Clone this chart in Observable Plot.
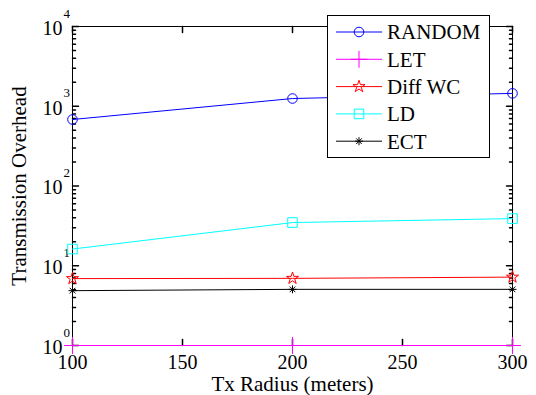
<!DOCTYPE html>
<html><head><meta charset="utf-8">
<script src="https://cdn.jsdelivr.net/npm/d3@7"></script>
<script src="https://cdn.jsdelivr.net/npm/@observablehq/plot@0.6"></script>
<style>
body{margin:0;background:#fff;}
#chart{width:536px;height:395px;}
#chart svg text{font-family:"Liberation Serif","Times New Roman",serif;}
</style>
</head><body><div id="chart"></div>
<script>
// ---- data ----
const radius = [100, 200, 300];
const randomVals = [682, 1250, 1450];
const letVals = [1, 1, 1];
const diffWcVals = [6.9, 6.95, 7.2];
const ldVals = [16.2, 34.8, 39];
const ectVals = [4.87, 5.06, 5.06];
const seriesNames = ["RANDOM", "LET", "Diff WC", "LD", "ECT"];
const xTicks = [100, 150, 200, 250, 300];
const yExponents = [0, 1, 2, 3, 4];

// ---- styles ----
const asterisk8 = {draw(ctx, size) {
  const r = Math.sqrt(size / Math.PI);
  const d = r * Math.SQRT1_2;
  ctx.moveTo(-r, 0); ctx.lineTo(r, 0);
  ctx.moveTo(0, -r); ctx.lineTo(0, r);
  ctx.moveTo(-d, -d); ctx.lineTo(d, d);
  ctx.moveTo(-d, d); ctx.lineTo(d, -d);
}};
const styles = {
  "RANDOM": {color: "#0000ff", symbol: "circle", r: 4.8},
  "LET": {color: "#ff00ff", symbol: "plus", r: 5.5},
  "Diff WC": {color: "#ff0000", symbol: "star", r: 3.8},
  "LD": {color: "#00ffff", symbol: "square", r: 5.4},
  "ECT": {color: "#000000", symbol: asterisk8, r: 4}
};
const valuesBySeries = {
  "RANDOM": randomVals, "LET": letVals, "Diff WC": diffWcVals, "LD": ldVals, "ECT": ectVals
};
const rows = seriesNames.flatMap(s => radius.map((x, i) => ({series: s, x, y: valuesBySeries[s][i]})));

const yMajor = yExponents.map(e => Math.pow(10, e));
const yMinor = yExponents.slice(0, -1).flatMap(e => d3.range(2, 10).map(k => k * Math.pow(10, e)));

const font = "Liberation Serif";
const tickShape = {draw(ctx, l) { ctx.moveTo(0, 0); ctx.lineTo(0, -l); }};

const M = {left: 72, right: 24, top: 26, bottom: 50};

const lineMarks = seriesNames.map(s => {
  const data = rows.filter(d => d.series === s);
  return Plot.line(data, {x: "x", y: "y", stroke: styles[s].color, strokeWidth: 1});
});
const dotMarks = seriesNames.map(s => {
  const data = rows.filter(d => d.series === s);
  const st = styles[s];
  return Plot.dot(data, {x: "x", y: "y", symbol: () => st.symbol, stroke: st.color, fill: "none", r: st.r, strokeWidth: 1});
});

const svg = Plot.plot({
  width: 536, height: 395,
  marginLeft: M.left, marginRight: M.right, marginTop: M.top, marginBottom: M.bottom,
  style: {fontFamily: font, background: "#fff", color: "#000"},
  x: {domain: [100, 300], axis: null},
  y: {type: "log", domain: [1, 1e4], axis: null},
  symbol: {type: "identity"},
  marks: [
    Plot.frame({stroke: "#000", strokeWidth: 1}),
    // x ticks (inward, bottom & top)
    Plot.vector(xTicks, {x: d => d, frameAnchor: "bottom", anchor: "start", length: 6, rotate: 0, shape: tickShape, stroke: "#000"}),
    Plot.vector(xTicks, {x: d => d, frameAnchor: "top", anchor: "start", length: 6, rotate: 180, shape: tickShape, stroke: "#000"}),
    // y ticks (inward, left & right)
    Plot.vector(yMajor, {y: d => d, frameAnchor: "left", anchor: "start", length: 6, rotate: 90, shape: tickShape, stroke: "#000"}),
    Plot.vector(yMajor, {y: d => d, frameAnchor: "right", anchor: "start", length: 6, rotate: -90, shape: tickShape, stroke: "#000"}),
    Plot.vector(yMinor, {y: d => d, frameAnchor: "left", anchor: "start", length: 3, rotate: 90, shape: tickShape, stroke: "#000"}),
    Plot.vector(yMinor, {y: d => d, frameAnchor: "right", anchor: "start", length: 3, rotate: -90, shape: tickShape, stroke: "#000"}),
    // tick labels
    Plot.text(xTicks, {x: d => d, frameAnchor: "bottom", dy: 17, text: d => String(d), fontSize: 20, fontFamily: font, lineAnchor: "middle"}),
    Plot.text(yExponents, {y: e => Math.pow(10, e), frameAnchor: "left", dx: -10, dy: 2, text: () => "10", fontSize: 20, fontFamily: font, textAnchor: "end", lineAnchor: "middle"}),
    Plot.text(yExponents, {y: e => Math.pow(10, e), frameAnchor: "left", dx: -9, dy: -13, text: e => String(e), fontSize: 13, fontFamily: font, textAnchor: "start", lineAnchor: "middle"}),
    // axis titles
    Plot.text(["Tx Radius (meters)"], {frameAnchor: "bottom", dy: 39, text: d => d, fontSize: 21, fontFamily: font, textAnchor: "middle", lineAnchor: "middle"}),
    Plot.text(["Transmission Overhead"], {frameAnchor: "left", dx: -53, rotate: -90, text: d => d, fontSize: 21, fontFamily: font, textAnchor: "middle", lineAnchor: "middle"}),
    ...lineMarks,
    ...dotMarks
  ]
});

// ---- legend (inside top-right) ----
const lg = d3.select(svg).append("g").attr("font-family", font);
const box = {x: 327, y: 15, w: 162, h: 142};
lg.append("rect").attr("x", box.x + 0.5).attr("y", box.y + 0.5).attr("width", box.w).attr("height", box.h)
  .attr("fill", "#fff").attr("stroke", "#000").attr("stroke-width", 1);
const symMap = {circle: d3.symbolCircle, plus: d3.symbolPlus, star: d3.symbolStar, square: d3.symbolSquare};
seriesNames.forEach((s, i) => {
  const st = styles[s];
  const cy = box.y + 17 + i * 27.3;
  lg.append("line").attr("x1", box.x + 9).attr("x2", box.x + 55).attr("y1", cy).attr("y2", cy)
    .attr("stroke", st.color).attr("stroke-width", 1);
  const symType = typeof st.symbol === "string" ? symMap[st.symbol] : st.symbol;
  lg.append("path").attr("d", d3.symbol(symType, st.r * st.r * Math.PI)())
    .attr("transform", `translate(${box.x + 32},${cy})`)
    .attr("fill", "none").attr("stroke", st.color).attr("stroke-width", 1);
  lg.append("text").attr("x", box.x + 60).attr("y", cy).attr("dy", "0.35em")
    .attr("text-anchor", "start").attr("font-size", 21).attr("fill", "#000").text(s);
});

document.getElementById("chart").appendChild(svg);
</script>
</body></html>
